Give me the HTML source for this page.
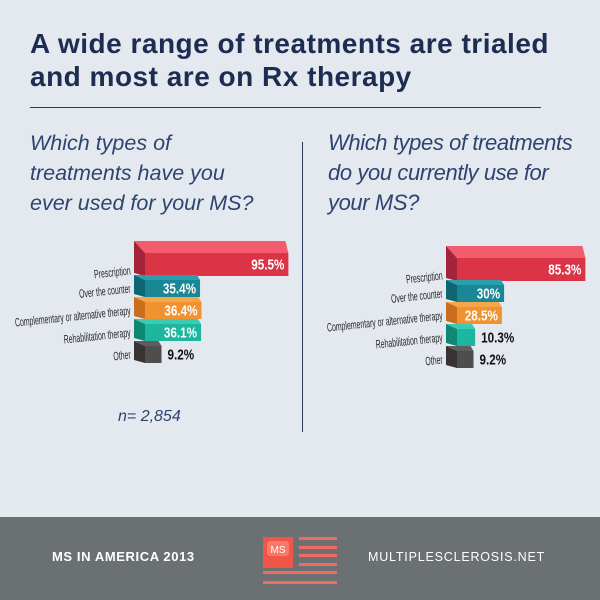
<!DOCTYPE html>
<html><head><meta charset="utf-8"><style>
body{margin:0;width:600px;height:600px;background:#e4e9ef;font-family:"Liberation Sans",sans-serif;position:relative;overflow:hidden}
.t{position:absolute;white-space:nowrap}
</style></head><body>
<div class="t" style="left:30px;top:27px;font-size:28px;font-weight:bold;color:#1d2d52;line-height:33px;letter-spacing:0.5px">A wide range of treatments are trialed<br>and most are on Rx therapy</div>
<div style="position:absolute;left:30px;top:107px;width:511px;height:1px;background:#2d3b5c"></div>
<div class="t" style="left:30px;top:128px;font-size:21.5px;font-style:italic;color:#2d4470;line-height:30px">Which types of<br>treatments have you<br>ever used for your MS?</div>
<div class="t" style="left:328px;top:128px;font-size:22px;font-style:italic;color:#2d4470;line-height:30px;letter-spacing:-0.4px">Which types of treatments<br>do you currently use for<br>your MS?</div>
<div style="position:absolute;left:302px;top:142px;width:1px;height:290px;background:#2d3b5c"></div>
<div class="t" style="left:118px;top:408px;font-size:16px;font-style:italic;color:#2d4470">n= 2,854</div>
<svg id="chart" width="600" height="600" style="position:absolute;left:0;top:0"></svg>
<div style="position:absolute;left:0;top:517px;width:600px;height:83px;background:#6b7073"></div>
<div class="t" style="left:52px;top:549px;font-size:13px;font-weight:bold;color:#fff;letter-spacing:0.6px">MS IN AMERICA 2013</div>
<div class="t" style="left:368px;top:550px;font-size:12.5px;color:#fff;letter-spacing:0.8px">MULTIPLESCLEROSIS.NET</div>
<svg width="600" height="600" style="position:absolute;left:0;top:0">
<rect x="263" y="537" width="30" height="31" fill="#f05545"/>
<rect x="267" y="541" width="22" height="15" rx="3" fill="#f47a6c"/>
<text x="278" y="553" text-anchor="middle" font-size="10" fill="#fff" font-family="Liberation Sans">MS</text>
<g fill="#f26b5e"><rect x="299" y="537" width="38" height="3"/><rect x="299" y="546" width="38" height="3"/><rect x="299" y="554" width="38" height="3"/><rect x="299" y="563" width="38" height="3"/><rect x="263" y="571" width="74" height="3"/><rect x="263" y="581" width="74" height="3"/></g>
</svg>
<script>
const categories=["Prescription","Over the counter","Complementary or alternative therapy","Rehabilitation therapy","Other"];
const everUsed=[95.5,35.4,36.4,36.1,9.2];
const currentUse=[85.3,30,28.5,10.3,9.2];
const labelsEver=["95.5%","35.4%","36.4%","36.1%","9.2%"];
const labelsCurrent=["85.3%","30%","28.5%","10.3%","9.2%"];
const front=["#dc3447","#1a8797","#ef922f","#1db69e","#4e4e4e"];
const topc=["#f25c6c","#2a9fb0","#f5a64a","#3acbb3","#5e5e5e"];
const side=["#a5233a","#0f6673","#c96e1c","#0e8872","#3a3232"];
const svg=document.getElementById('chart');
const NS="http://www.w3.org/2000/svg";
function xLen(v){return 3+v*1.47;}
function poly(pts,fill){const p=document.createElementNS(NS,'polygon');p.setAttribute('points',pts.map(a=>a.join(',')).join(' '));p.setAttribute('fill',fill);return p;}
function drawChart(x0,yBase,vals,labels,name){
  const g=document.createElementNS(NS,'g');
  
  
  svg.appendChild(g);
  vals.forEach((v,i)=>{
    let yt,yb,d=5;
    if(i===0){yt=yBase;yb=yBase+23;d=12;}else{yt=yBase+27+(i-1)*22;yb=yt+17;}
    const x1=x0+xLen(v);
    const bar=document.createElementNS(NS,'g');
    
    
    bar.appendChild(poly([[x0-11,yt-d],[x1-3,yt-d],[x1,yt],[x0,yt]],topc[i]));
    bar.appendChild(poly([[x0-11,yt-d],[x0,yt],[x0,yb],[x0-11,yb-3]],side[i]));
    bar.appendChild(poly([[x0,yt],[x1,yt],[x1,yb],[x0,yb]],front[i]));
    const big=v>20;
    const t=document.createElementNS(NS,'text');
    
    
    const tx=big?x1-4:x1+6, ty=(yt+yb)/2+5;
    t.setAttribute('x',0);t.setAttribute('y',0);
    t.setAttribute('transform','translate('+tx+' '+ty+') scale(0.78 1)');
    t.setAttribute('text-anchor',big?'end':'start');
    t.setAttribute('font-size','15');t.setAttribute('font-weight','bold');
    t.setAttribute('fill',big?'#fff':'#111');
    t.textContent=labels[i];
    bar.appendChild(t);
    const c=document.createElementNS(NS,'text');
    
    
    const cy=(yt+yb)/2+4+(i===0?6:0);
    c.setAttribute('x',0);c.setAttribute('y',0);
    c.setAttribute('text-anchor','end');c.setAttribute('font-size','12');
    c.setAttribute('fill','#2a2a2a');
    c.setAttribute('transform','translate('+(x0-14)+' '+cy+') rotate(-6) scale(0.58 1)');
    c.textContent=categories[i];
    bar.appendChild(c);
    g.appendChild(bar);
  });
}
drawChart(145,253,everUsed,labelsEver,'ever-used-chart');
drawChart(457,258,currentUse,labelsCurrent,'current-use-chart');
</script>
</body></html>
